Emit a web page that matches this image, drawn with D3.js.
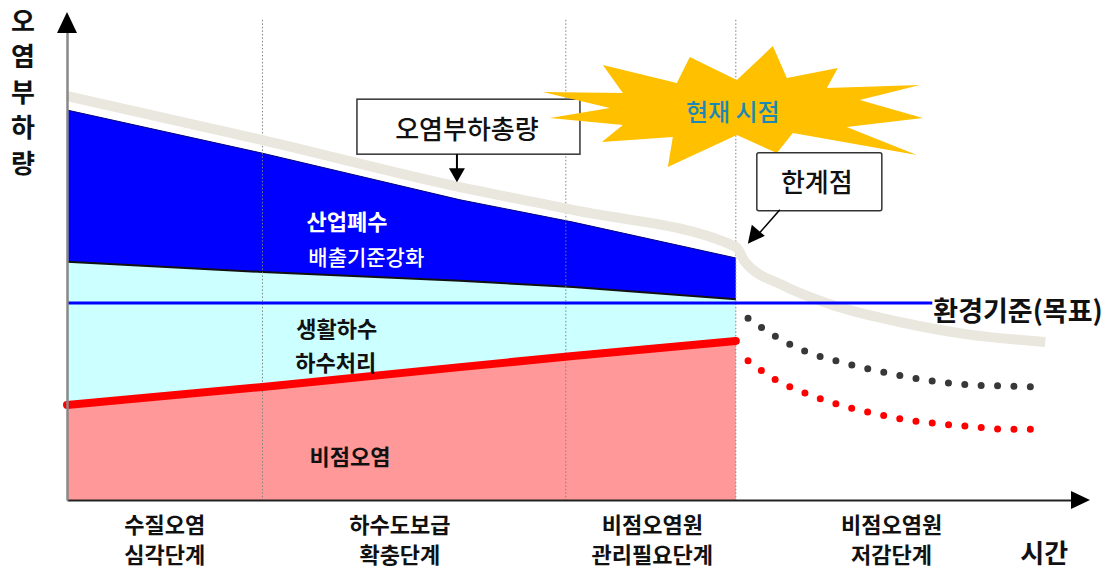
<!DOCTYPE html>
<html><head><meta charset="utf-8">
<script src="https://cdn.jsdelivr.net/npm/d3@7"></script>
<style>
html,body{margin:0;padding:0;background:#fff;}
svg{display:block;font-family:"Noto Sans CJK KR","Noto Sans",sans-serif;}
</style></head><body>
<svg id="chart" width="1117" height="570"></svg>
<script>
// Conceptual chart: pollutant load over time (arbitrary units on both axes)
const stageBounds = [19.2, 49, 65.7];
const stageCenters = [9.6, 32.7, 57.5, 81];
const stageLine1 = ["수질오염", "하수도보급", "비점오염원", "비점오염원"];
const stageLine2 = ["심각단계", "확충단계", "관리필요단계", "저감단계"];

// Past/present period, stacked bands
const histTime = [0, 19.2, 38.6, 49.7, 65.7];
const industrialTop = [80.4, 71.5, 61.9, 57.3, 49.9];
const industrialBottom = [49.1, 47.0, 45.2, 43.9, 41.4];
const nonpointTop = [19.6, 23.3, 27.4, 29.7, 32.8];

// Total load (오염부하총량), past and future
const totalTime = [0, 19.2, 38.6, 49.7, 65.7, 66.6, 70.3, 75.2, 81.8, 88.3, 96.1];
const totalLoad = [83.3, 74.2, 64.5, 59.8, 52.2, 49.1, 44.3, 40.2, 36.7, 34.2, 32.6];

// Future projections (dotted)
const projTime = [66.9, 69.7, 72.7, 75.9, 79.2, 82.5, 85.8, 89.0, 92.3, 95.6];
const projDomestic = [37.5, 33.6, 30.5, 28.5, 26.8, 25.4, 24.3, 23.7, 23.5, 23.3];
const projNonpoint = [28.7, 24.7, 21.9, 19.6, 17.9, 16.5, 15.7, 15.1, 14.6, 14.6];

// Environmental standard (target)
const standardLevel = 40.6;
const standardEnd = 85.0;

const yTitle = ["오", "염", "부", "하", "량"];

const svg = d3.select("#chart");
const x = d3.scaleLinear().domain([0, 100]).range([67, 1085]);
const y = d3.scaleLinear().domain([0, 100]).range([500, 15]);

const hist = histTime.map((t, i) => ({
  t, top: industrialTop[i], bot: industrialBottom[i], np: nonpointTop[i]
}));

// bands
svg.append("path").datum(hist)
  .attr("fill", "#ff9999")
  .attr("d", d3.area().x(d => x(d.t)).y0(y(0)).y1(d => y(d.np)));
svg.append("path").datum(hist)
  .attr("fill", "#ccffff")
  .attr("d", d3.area().x(d => x(d.t)).y0(d => y(d.np)).y1(d => y(d.bot)));
svg.append("path").datum(hist)
  .attr("fill", "#0000ff")
  .attr("d", d3.area().x(d => x(d.t)).y0(d => y(d.bot)).y1(d => y(d.top)));
svg.append("path").datum(hist)
  .attr("fill", "none").attr("stroke", "#111").attr("stroke-width", 2)
  .attr("d", d3.line().x(d => x(d.t)).y(d => y(d.bot)));
svg.append("path").datum(hist)
  .attr("fill", "none").attr("stroke", "#000080").attr("stroke-width", 1)
  .attr("d", d3.line().x(d => x(d.t)).y(d => y(d.top)));

// stage separators
svg.selectAll(".sep").data(stageBounds).join("line")
  .attr("x1", d => x(d)).attr("x2", d => x(d))
  .attr("y1", y(99)).attr("y2", y(0))
  .attr("stroke", "#808080").attr("stroke-width", 1)
  .attr("stroke-dasharray", "1.5,2");

// red boundary between domestic sewage and nonpoint
svg.append("path").datum(hist)
  .attr("fill", "none").attr("stroke", "#ff0000").attr("stroke-width", 8)
  .attr("stroke-linecap", "round")
  .attr("d", d3.line().x(d => x(d.t)).y(d => y(d.np)));

// total load
const total = totalTime.map((t, i) => ({ t, v: totalLoad[i] }));
svg.append("path").datum(total)
  .attr("fill", "none").attr("stroke", "#eae7de").attr("stroke-width", 10)
  .attr("d", d3.line().x(d => x(d.t)).y(d => y(d.v)).curve(d3.curveMonotoneX));

// environmental standard line
svg.append("line")
  .attr("x1", x(0)).attr("x2", x(standardEnd))
  .attr("y1", y(standardLevel)).attr("y2", y(standardLevel))
  .attr("stroke", "#0000ff").attr("stroke-width", 3);
svg.append("text")
  .attr("x", x(standardEnd) + 1).attr("y", y(standardLevel) + 6)
  .attr("dominant-baseline", "central")
  .attr("font-size", 27).attr("font-weight", 700).attr("fill", "#111")
  .text("환경기준(목표)");

// projections
function dotted(vals, color) {
  const pts = projTime.map((t, i) => ({ t, v: vals[i] }));
  svg.append("path").datum(pts)
    .attr("fill", "none").attr("stroke", color).attr("stroke-width", 7)
    .attr("stroke-linecap", "round").attr("stroke-dasharray", "0,16.4")
    .attr("d", d3.line().x(d => x(d.t)).y(d => y(d.v)).curve(d3.curveMonotoneX));
}
dotted(projDomestic, "#383838");
dotted(projNonpoint, "#ff0000");

// axes
const xAxis = svg.append("g").attr("transform", `translate(0,${y(0)})`)
  .call(d3.axisBottom(x).tickValues([]).tickSizeOuter(0));
xAxis.select(".domain").attr("stroke", "#222").attr("stroke-width", 2);
svg.append("path")
  .attr("d", `M${x(100) - 14},${y(0) - 9}L${x(100) + 5},${y(0)}L${x(100) - 14},${y(0) + 9}Z`)
  .attr("fill", "#000");

const yAxis = svg.append("g").attr("transform", `translate(${x(0)},0)`)
  .call(d3.axisLeft(y).tickValues([]).tickSizeOuter(0));
yAxis.select(".domain").attr("stroke", "#888").attr("stroke-width", 2.5);
svg.append("path")
  .attr("d", `M${x(0) - 10},${y(100) + 18}L${x(0)},${y(100) - 3}L${x(0) + 10},${y(100) + 18}Z`)
  .attr("fill", "#000");

// y title, stacked vertically
svg.selectAll(".ytitle").data(yTitle).join("text")
  .attr("x", 23).attr("y", (d, i) => 19 + i * 35.5)
  .attr("text-anchor", "middle").attr("dominant-baseline", "central")
  .attr("font-size", 26).attr("font-weight", 700).attr("fill", "#111")
  .text(d => d);

// stage labels
svg.selectAll(".st1").data(stageLine1).join("text")
  .attr("x", (d, i) => x(stageCenters[i])).attr("y", 523)
  .attr("text-anchor", "middle").attr("dominant-baseline", "central")
  .attr("font-size", 22).attr("font-weight", 700).attr("fill", "#111")
  .text(d => d);
svg.selectAll(".st2").data(stageLine2).join("text")
  .attr("x", (d, i) => x(stageCenters[i])).attr("y", 553)
  .attr("text-anchor", "middle").attr("dominant-baseline", "central")
  .attr("font-size", 22).attr("font-weight", 700).attr("fill", "#111")
  .text(d => d);
svg.append("text").attr("x", x(96)).attr("y", 551)
  .attr("text-anchor", "middle").attr("dominant-baseline", "central")
  .attr("font-size", 26).attr("font-weight", 700).attr("fill", "#111")
  .text("시간");

// band labels
function label(t, v, txt, color, weight, size) {
  svg.append("text").attr("x", x(t)).attr("y", y(v))
    .attr("text-anchor", "middle").attr("dominant-baseline", "central")
    .attr("font-size", size).attr("font-weight", weight).attr("fill", color)
    .text(txt);
}
label(27.5, 57.7, "산업폐수", "#fff", 700, 22);
label(29.4, 50.3, "배출기준강화", "#fff", 500, 21);
label(26.5, 35.7, "생활하수", "#111", 700, 22);
label(26.4, 28.7, "하수처리", "#111", 700, 22);
label(27.8, 9.3, "비점오염", "#111", 700, 22);

// callout: total load
const tip1 = { x: x(totalTime[2]) - 3, y: y(totalLoad[2]) - 5 };
svg.append("rect")
  .attr("x", tip1.x - 100).attr("y", tip1.y - 83).attr("width", 223).attr("height", 55)
  .attr("fill", "#fff").attr("stroke", "#333").attr("stroke-width", 1.5);
svg.append("text").attr("x", tip1.x + 10).attr("y", tip1.y - 55)
  .attr("text-anchor", "middle").attr("dominant-baseline", "central")
  .attr("font-size", 26).attr("font-weight", 500).attr("fill", "#111")
  .text("오염부하총량");
svg.append("line").attr("x1", tip1.x).attr("x2", tip1.x)
  .attr("y1", tip1.y - 28).attr("y2", tip1.y - 12)
  .attr("stroke", "#000").attr("stroke-width", 2);
svg.append("path")
  .attr("d", `M${tip1.x - 8},${tip1.y - 14}L${tip1.x},${tip1.y}L${tip1.x + 8},${tip1.y - 14}Z`)
  .attr("fill", "#000");

// present-time starburst
const cx = x(stageBounds[2]) + 1, cy = y(80.4);
const burst = [[-194,-18],[-114,-17],[-134,-45],[-60,-27],[-47,-53],[0,-30],[36,-64],[50,-32],
  [101,-42],[90,-22],[183,-25],[123,-10],[186,8],[110,17],[180,45],[56,23],[40,43],[0,25],
  [-69,57],[-64,27],[-135,32],[-114,15],[-187,8],[-127,-2]];
svg.append("path")
  .attr("d", d3.line()(burst.map(p => [cx + p[0], cy + p[1]])) + "Z")
  .attr("fill", "#ffc000");
svg.append("text").attr("x", cx - 4).attr("y", cy)
  .attr("text-anchor", "middle").attr("dominant-baseline", "central")
  .attr("font-size", 24).attr("font-weight", 500).attr("fill", "#1e88b4")
  .text("현재 시점");

// callout: threshold
const px = x(totalTime[4]), py = y(totalLoad[4]);
svg.append("rect")
  .attr("x", px + 21).attr("y", py - 94).attr("width", 125).attr("height", 58)
  .attr("rx", 2)
  .attr("fill", "#fff").attr("stroke", "#333").attr("stroke-width", 1.5);
svg.append("text").attr("x", px + 81).attr("y", py - 66)
  .attr("text-anchor", "middle").attr("dominant-baseline", "central")
  .attr("font-size", 26).attr("font-weight", 500).attr("fill", "#111")
  .text("한계점");
svg.append("line").attr("x1", px + 44).attr("y1", py - 37)
  .attr("x2", px + 22).attr("y2", py - 12)
  .attr("stroke", "#000").attr("stroke-width", 1.5);
svg.append("path")
  .attr("d", `M${px + 12},${py - 3}L${px + 16},${py - 22}L${px + 29},${py - 11}Z`)
  .attr("fill", "#000");
</script>
</body></html>
